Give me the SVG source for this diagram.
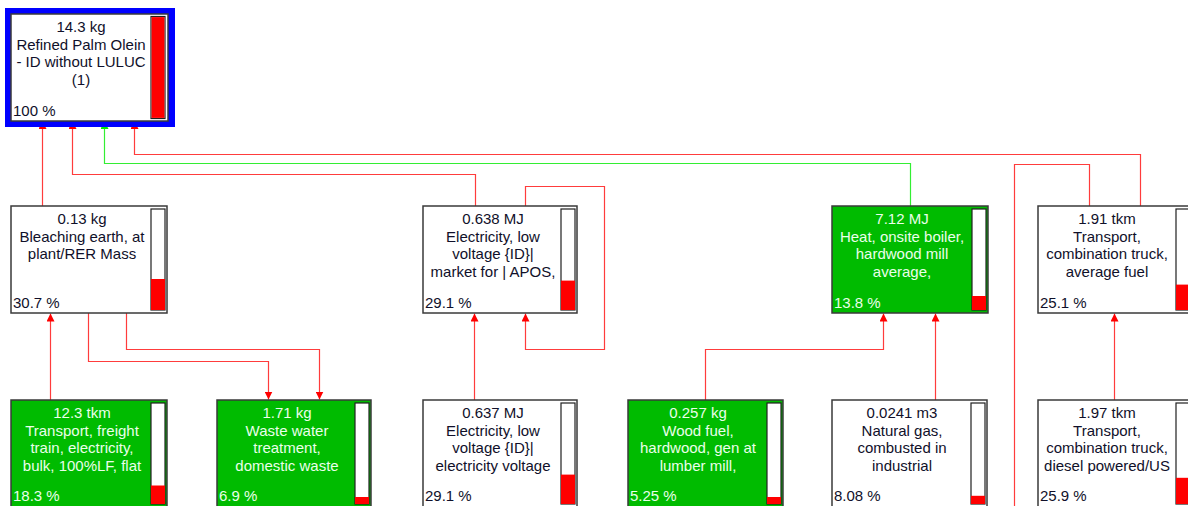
<svg xmlns="http://www.w3.org/2000/svg" width="1188" height="506" viewBox="0 0 1188 506">
<defs>
<style>
.box{stroke:#3a3a3a;stroke-width:1.5}
.w{fill:#ffffff}
.g{fill:#00bb00}
.bar{fill:#ffffff;stroke:#202020;stroke-width:1.2}
.fillr{fill:#ff0000}
text{font-family:"Liberation Sans",Arial,sans-serif;font-size:15px}
.t{text-anchor:middle}
.dk{fill:#10102a}
.lt{fill:#eaffea}
.cr{fill:none;stroke:#ff3c3c;stroke-width:1.2}
.cg{fill:none;stroke:#33ee33;stroke-width:1.2}
</style>
<marker id="ar" markerUnits="userSpaceOnUse" markerWidth="8" markerHeight="8" viewBox="0 0 10 10" refX="10" refY="5" orient="auto"><path d="M0,0 L10,5 L0,10 z" fill="#ff0000"/></marker>
<marker id="ag" markerUnits="userSpaceOnUse" markerWidth="8" markerHeight="8" viewBox="0 0 10 10" refX="10" refY="5" orient="auto"><path d="M0,0 L10,5 L0,10 z" fill="#00ee00"/></marker>
</defs>
<rect width="1188" height="506" fill="#ffffff"/>

<g id="connectors">
<path class="cr" d="M42.5,206 V121" marker-end="url(#ar)"/>
<path class="cr" d="M475.5,206 V174.5 H72.5 V121" marker-end="url(#ar)"/>
<path class="cg" d="M910.5,206 V163.5 H104.5 V121" marker-end="url(#ag)"/>
<path class="cr" d="M1140.5,206 V154.5 H134.5 V121" marker-end="url(#ar)"/>
<path class="cr" d="M50.5,400 V313.5" marker-end="url(#ar)"/>
<path class="cr" d="M88.5,313 V361.5 H268.5 V399.5" marker-end="url(#ar)"/>
<path class="cr" d="M126.5,313 V349.5 H319.5 V399.5" marker-end="url(#ar)"/>
<path class="cr" d="M474.5,400 V313.5" marker-end="url(#ar)"/>
<path class="cr" d="M525.5,206 V186.5 H604.5 V349.5 H525.5 V313.5" marker-end="url(#ar)"/>
<path class="cr" d="M705.5,400 V349.5 H883.5 V313.5" marker-end="url(#ar)"/>
<path class="cr" d="M935.5,400 V313.5" marker-end="url(#ar)"/>
<path class="cr" d="M1114.5,400 V313.5" marker-end="url(#ar)"/>
<path class="cr" d="M1014.5,507 V164.5 H1089.5 V206"/>
</g>

<g id="n_top">
<rect x="5" y="8" width="170" height="119" fill="#0000ff"/>
<rect class="box w" x="11" y="14" width="157" height="107"/>
<rect class="bar" x="151" y="16.5" width="14" height="102"/>
<rect class="fillr" x="151.6" y="17.1" width="12.8" height="100.8"/>
<text class="t dk" x="81" y="32">14.3 kg</text>
<text class="t dk" x="81" y="49.5">Refined Palm Olein</text>
<text class="t dk" x="81" y="67">- ID without LULUC</text>
<text class="t dk" x="81" y="84.5">(1)</text>
<text class="dk" x="13" y="116">100 %</text>
</g>

<g id="n_bleach">
<rect class="box w" x="11" y="206" width="156" height="107"/>
<rect class="bar" x="151" y="209" width="14" height="101"/>
<rect class="fillr" x="151" y="279" width="14" height="31"/>
<text class="t dk" x="82" y="224">0.13 kg</text>
<text class="t dk" x="82" y="241.5">Bleaching earth, at</text>
<text class="t dk" x="82" y="259">plant/RER Mass</text>
<text class="dk" x="13" y="307.5">30.7 %</text>
</g>

<g id="n_elec1">
<rect class="box w" x="423" y="206" width="154" height="107"/>
<rect class="bar" x="561" y="209" width="14" height="101"/>
<rect class="fillr" x="561" y="280.6" width="14" height="29.4"/>
<text class="t dk" x="493" y="224">0.638 MJ</text>
<text class="t dk" x="493" y="241.5">Electricity, low</text>
<text class="t dk" x="493" y="259">voltage {ID}|</text>
<text class="t dk" x="493" y="276.5">market for | APOS,</text>
<text class="dk" x="425" y="307.5">29.1 %</text>
</g>

<g id="n_heat">
<rect class="box g" x="832" y="206" width="156" height="107"/>
<rect class="bar" x="972" y="209" width="14" height="101"/>
<rect class="fillr" x="972" y="296" width="14" height="14"/>
<text class="t lt" x="902" y="224">7.12 MJ</text>
<text class="t lt" x="902" y="241.5">Heat, onsite boiler,</text>
<text class="t lt" x="902" y="259">hardwood mill</text>
<text class="t lt" x="902" y="276.5">average,</text>
<text class="lt" x="834" y="307.5">13.8 %</text>
</g>

<g id="n_truck1">
<rect class="box w" x="1038" y="206" width="154" height="107"/>
<rect class="bar" x="1176" y="209" width="14" height="101"/>
<rect class="fillr" x="1176" y="284.6" width="14" height="25.4"/>
<text class="t dk" x="1107" y="224">1.91 tkm</text>
<text class="t dk" x="1107" y="241.5">Transport,</text>
<text class="t dk" x="1107" y="259">combination truck,</text>
<text class="t dk" x="1107" y="276.5">average fuel</text>
<text class="dk" x="1040" y="307.5">25.1 %</text>
</g>

<g id="n_train">
<rect class="box g" x="11" y="400" width="156" height="107"/>
<rect class="bar" x="151" y="403" width="14" height="101"/>
<rect class="fillr" x="151" y="485.5" width="14" height="18.5"/>
<text class="t lt" x="82" y="418">12.3 tkm</text>
<text class="t lt" x="82" y="435.5">Transport, freight</text>
<text class="t lt" x="82" y="453">train, electricity,</text>
<text class="t lt" x="82" y="470.5">bulk, 100%LF, flat</text>
<text class="lt" x="13" y="501">18.3 %</text>
</g>

<g id="n_waste">
<rect class="box g" x="217" y="400" width="154" height="107"/>
<rect class="bar" x="355" y="403" width="14" height="101"/>
<rect class="fillr" x="355" y="497" width="14" height="7"/>
<text class="t lt" x="287" y="418">1.71 kg</text>
<text class="t lt" x="287" y="435.5">Waste water</text>
<text class="t lt" x="287" y="453">treatment,</text>
<text class="t lt" x="287" y="470.5">domestic waste</text>
<text class="lt" x="219" y="501">6.9 %</text>
</g>

<g id="n_elec2">
<rect class="box w" x="423" y="400" width="154" height="107"/>
<rect class="bar" x="561" y="403" width="14" height="101"/>
<rect class="fillr" x="561" y="474.6" width="14" height="29.4"/>
<text class="t dk" x="493" y="418">0.637 MJ</text>
<text class="t dk" x="493" y="435.5">Electricity, low</text>
<text class="t dk" x="493" y="453">voltage {ID}|</text>
<text class="t dk" x="493" y="470.5">electricity voltage</text>
<text class="dk" x="425" y="501">29.1 %</text>
</g>

<g id="n_wood">
<rect class="box g" x="628" y="400" width="155" height="107"/>
<rect class="bar" x="767" y="403" width="14" height="101"/>
<rect class="fillr" x="767" y="497" width="14" height="7"/>
<text class="t lt" x="698" y="418">0.257 kg</text>
<text class="t lt" x="698" y="435.5">Wood fuel,</text>
<text class="t lt" x="698" y="453">hardwood, gen at</text>
<text class="t lt" x="698" y="470.5">lumber mill,</text>
<text class="lt" x="630" y="501">5.25 %</text>
</g>

<g id="n_gas">
<rect class="box w" x="832" y="400" width="155" height="107"/>
<rect class="bar" x="971" y="403" width="14" height="101"/>
<rect class="fillr" x="971" y="495.8" width="14" height="8.2"/>
<text class="t dk" x="902" y="418">0.0241 m3</text>
<text class="t dk" x="902" y="435.5">Natural gas,</text>
<text class="t dk" x="902" y="453">combusted in</text>
<text class="t dk" x="902" y="470.5">industrial</text>
<text class="dk" x="834" y="501">8.08 %</text>
</g>

<g id="n_truck2">
<rect class="box w" x="1038" y="400" width="154" height="107"/>
<rect class="bar" x="1176" y="403" width="14" height="101"/>
<rect class="fillr" x="1176" y="477.8" width="14" height="26.2"/>
<text class="t dk" x="1107" y="418">1.97 tkm</text>
<text class="t dk" x="1107" y="435.5">Transport,</text>
<text class="t dk" x="1107" y="453">combination truck,</text>
<text class="t dk" x="1107" y="470.5">diesel powered/US</text>
<text class="dk" x="1040" y="501">25.9 %</text>
</g>
</svg>
